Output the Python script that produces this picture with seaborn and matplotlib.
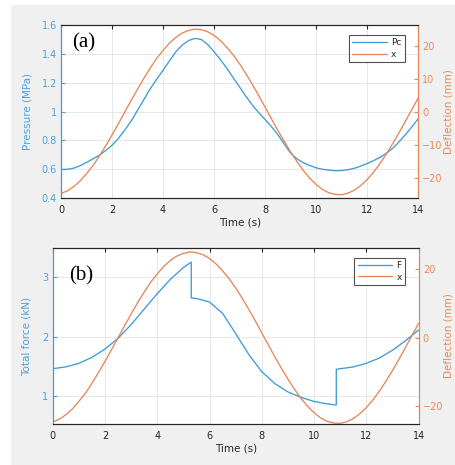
import matplotlib.pyplot as plt
import matplotlib.patches as mpatches
import numpy as np
import pandas as pd
import seaborn as sns

# time base (s), 0.25 s steps
t = [0, 0.25, 0.5, 0.75, 1, 1.25, 1.5, 1.75, 2, 2.25, 2.5, 2.75, 3, 3.25, 3.5, 3.75,
     4, 4.25, 4.5, 4.75, 5, 5.25, 5.5, 5.75, 6, 6.25, 6.5, 6.75, 7, 7.25, 7.5, 7.75,
     8, 8.25, 8.5, 8.75, 9, 9.25, 9.5, 9.75, 10, 10.25, 10.5, 10.75, 11, 11.25, 11.5,
     11.75, 12, 12.25, 12.5, 12.75, 13, 13.25, 13.5, 13.75, 14]

# chamber pressure Pc (MPa)
pc = [0.598, 0.600, 0.608, 0.625, 0.648, 0.672, 0.698, 0.730, 0.767, 0.815, 0.873,
      0.935, 1.010, 1.085, 1.160, 1.225, 1.288, 1.352, 1.415, 1.462, 1.493, 1.508,
      1.500, 1.465, 1.415, 1.360, 1.300, 1.235, 1.170, 1.105, 1.045, 0.992, 0.945,
      0.895, 0.840, 0.775, 0.712, 0.672, 0.645, 0.626, 0.610, 0.600, 0.594, 0.590,
      0.591, 0.597, 0.607, 0.622, 0.640, 0.660, 0.682, 0.710, 0.745, 0.790, 0.840,
      0.893, 0.950]

# deflection x (mm)
x_defl = [-24.6, -23.8, -22.5, -20.8, -18.6, -16.2, -13.3, -10.2, -6.9, -3.5, 0.0,
          3.5, 6.9, 10.2, 13.3, 16.2, 18.6, 20.8, 22.5, 23.8, 24.6, 25.0, 24.8, 24.2,
          23.1, 21.5, 19.5, 17.2, 14.5, 11.5, 8.3, 4.9, 1.4, -2.1, -5.6, -8.9, -12.1,
          -15.0, -17.7, -20.0, -21.9, -23.4, -24.4, -24.9, -25.0, -24.5, -23.6, -22.2,
          -20.4, -18.2, -15.6, -12.7, -9.6, -6.3, -2.8, 0.7, 4.2]

# total force F (kN), with the two jumps
t_f = [0, 0, 0.5, 1, 1.5, 2, 2.5, 3, 3.5, 4, 4.5, 5, 5.3, 5.3, 5.5, 6, 6.5, 7, 7.5,
       8, 8.5, 9, 9.5, 10, 10.5, 10.85, 10.85, 11, 11.5, 12, 12.5, 13, 13.5, 14]
force = [0.5, 1.46, 1.49, 1.55, 1.65, 1.79, 1.97, 2.20, 2.46, 2.72, 2.96, 3.16, 3.25,
         2.65, 2.64, 2.58, 2.39, 2.05, 1.70, 1.41, 1.21, 1.07, 0.98, 0.91, 0.87, 0.85,
         1.45, 1.46, 1.49, 1.55, 1.64, 1.77, 1.93, 2.11]

xticks = [0, 2, 4, 6, 8, 10, 12, 14]

BLUE = '#3f9bd3'
ORANGE = '#e5865a'
LBLUE = '#4aa2dc'
LORANGE = '#e8885a'
DARK = '#262626'

sns.set_style('white')
plt.rcParams['font.family'] = ['DejaVu Sans']

fig = plt.figure(figsize=(4.56, 4.65), dpi=100, facecolor='white')
fig.patches.append(mpatches.Rectangle((11 / 456, 0), 1 - 11 / 456, 1 - 5 / 465,
                                      transform=fig.transFigure, facecolor='#f0f0f0',
                                      edgecolor='none', zorder=-10))


def style_axes(ax, ax2, yticks_l, ylim_l, yticks_r, ylim_r, ylab_l, ylab_r, lx, rx):
    ax.set_xlim(0, 14)
    ax.set_xticks(xticks)
    ax.set_ylim(*ylim_l)
    ax.set_yticks(yticks_l)
    ax2.set_ylim(*ylim_r)
    ax2.set_yticks(yticks_r)
    ax.grid(True, color='#e3e3e3', lw=0.6)
    ax.set_axisbelow(True)
    ax.set_xlabel('Time (s)', fontsize=7.5, color=DARK, labelpad=2)
    ax.set_ylabel(ylab_l, fontsize=7.5, color=LBLUE)
    ax2.set_ylabel(ylab_r, fontsize=7.5, color=LORANGE, va='center')
    ax.yaxis.set_label_coords(lx, 0.5)
    ax2.yaxis.set_label_coords(rx, 0.5)
    ax.tick_params(axis='x', direction='in', length=3, labelsize=7, colors=DARK,
                   top=True, pad=5)
    ax.tick_params(axis='y', direction='in', length=3, labelsize=7, colors=LBLUE,
                   right=False, pad=3)
    ax2.tick_params(axis='y', direction='in', length=3, labelsize=7, colors=LORANGE, pad=3)
    for a in (ax, ax2):
        for s in a.spines.values():
            s.set_linewidth(0.8)
        a.spines['top'].set_color(DARK)
        a.spines['bottom'].set_color(DARK)
        a.spines['left'].set_color(BLUE)
        a.spines['right'].set_color(ORANGE)
    ax2.set_xlabel('')


def add_legend(ax, axr, labels):
    h = ax.get_lines()[:1] + axr.get_lines()[:1]
    leg = axr.legend(h, labels, loc='upper right', bbox_to_anchor=(0.975, 0.97),
                     fontsize=6.5, frameon=True, fancybox=False, edgecolor=DARK,
                     handlelength=3.8, handletextpad=0.5, borderpad=0.35,
                     labelspacing=0.3)
    leg.get_frame().set_linewidth(0.8)


# ---- (a) pressure and deflection
ax1 = fig.add_axes([0.134, 0.574, 0.783, 0.372])
ax1b = ax1.twinx()
sns.lineplot(x=t, y=pc, ax=ax1, color=BLUE, lw=0.95, legend=False)
sns.lineplot(x=t, y=x_defl, ax=ax1b, color=ORANGE, lw=0.95, legend=False)
style_axes(ax1, ax1b, [0.4, 0.6, 0.8, 1.0, 1.2, 1.4, 1.6], (0.4, 1.6),
           [-20, -10, 0, 10, 20], (-26, 26.2), 'Pressure (MPa)', 'Deflection (mm)',
           -0.081, 1.086)
ax1.set_yticklabels(['0.4', '0.6', '0.8', '1', '1.2', '1.4', '1.6'])
add_legend(ax1, ax1b, ['Pc', 'x'])
ax1.text(0.03, 0.9, '(a)', transform=ax1.transAxes, fontsize=15,
         family='Liberation Serif', va='center', ha='left', color='black')

# ---- (b) force and deflection
ax2 = fig.add_axes([0.1156, 0.088, 0.8024, 0.379])
ax2b = ax2.twinx()
df_f = pd.DataFrame({'t': t_f, 'F': force})
sns.lineplot(data=df_f, x='t', y='F', ax=ax2, color=BLUE, lw=0.95, estimator=None,
             sort=False, legend=False)
sns.lineplot(x=t, y=x_defl, ax=ax2b, color=ORANGE, lw=0.95, legend=False)
style_axes(ax2, ax2b, [1, 2, 3], (0.53, 3.49), [-20, 0, 20], (-25.2, 26.2),
           'Total force (kN)', 'Deflection (mm)', -0.057, 1.082)
add_legend(ax2, ax2b, ['F', 'x'])
ax2.text(0.045, 0.84, '(b)', transform=ax2.transAxes, fontsize=15,
         family='Liberation Serif', va='center', ha='left', color='black')

fig.savefig('out.png', dpi=100, facecolor=fig.get_facecolor())
